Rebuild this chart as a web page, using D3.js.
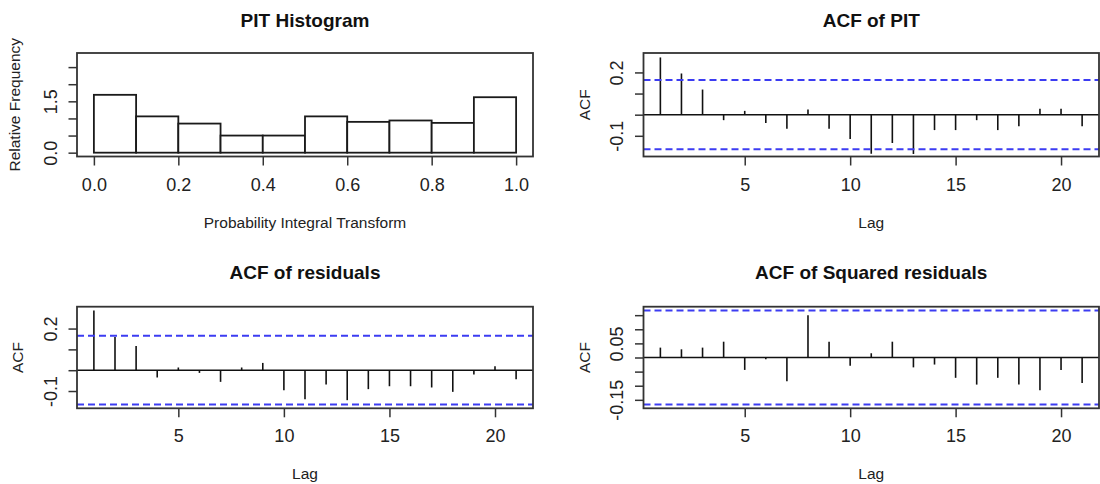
<!DOCTYPE html>
<html><head><meta charset="utf-8">
<script src="https://cdn.jsdelivr.net/npm/d3@7"></script>
<style>body{margin:0;background:#fff} svg{display:block}</style>
</head><body><svg id="c" width="1100" height="484"></svg>
<script>
// ---------- data ----------
const binStarts = [0.0, 0.1, 0.2, 0.3, 0.4, 0.5, 0.6, 0.7, 0.8, 0.9];
const binWidth = 0.1;
const pitDensity = [1.69, 1.06, 0.85, 0.50, 0.50, 1.06, 0.90, 0.94, 0.87, 1.62];
const histXTicks = [0.0, 0.2, 0.4, 0.6, 0.8, 1.0];
const histXLabels = ["0.0", "0.2", "0.4", "0.6", "0.8", "1.0"];
const histYTicks = [0.0, 0.5, 1.0, 1.5, 2.0, 2.5];
const histYLabels = ["0.0", "", "", "1.5", "", ""];

const lags = [1,2,3,4,5,6,7,8,9,10,11,12,13,14,15,16,17,18,19,20,21];
const acfPit = [0.271, 0.195, 0.119, -0.026, 0.018, -0.039, -0.067, 0.025, -0.067, -0.115,
                -0.185, -0.134, -0.186, -0.073, -0.073, -0.026, -0.073, -0.055, 0.028, 0.028, -0.055];
const acfRes = [0.287, 0.159, 0.116, -0.035, 0.013, -0.013, -0.056, 0.013, 0.035, -0.096,
                -0.139, -0.069, -0.144, -0.091, -0.077, -0.077, -0.083, -0.104, -0.021, 0.019, -0.043];
const acfSq  = [0.035, 0.029, 0.035, 0.056, -0.044, -0.006, -0.084, 0.150, 0.056, -0.029,
                0.015, 0.056, -0.035, -0.025, -0.072, -0.096, -0.072, -0.096, -0.116, -0.044, -0.090];
const ciPit = 0.164, ciRes = 0.165, ciSq = 0.1665;
const lagTicks = [5, 10, 15, 20];
const acfTicks = [-0.1, 0.0, 0.1, 0.2];
const acfLabels = ["-0.1", "", "", "0.2"];
const sqTicks = [-0.15, -0.10, -0.05, 0.00, 0.05, 0.10, 0.15];
const sqLabels = ["-0.15", "", "", "", "0.05", "", ""];

// ---------- layout ----------
const svg = d3.select("#c");
const FONT = "'Liberation Sans', Arial, sans-serif";
const cols = [[77, 533], [643.5, 1099]];
const rows = [[53, 156.5], [306.7, 408.3]];

function panel(col, row, xDomain, yDomain, title, xlab, ylab, ylabOff) {
  const [x0, x1] = cols[col], [y0, y1] = rows[row];
  const x = d3.scaleLinear().domain(xDomain).range([x0, x1]);
  const y = d3.scaleLinear().domain(yDomain).range([y1, y0]);
  const g = svg.append("g");
  // title
  g.append("text").attr("x", (x0 + x1) / 2).attr("y", row === 0 ? 26.5 : 279)
    .attr("text-anchor", "middle").attr("font-family", FONT).attr("font-weight", "bold")
    .attr("font-size", 19).attr("fill", "#111").text(title);
  // x label
  g.append("text").attr("x", (x0 + x1) / 2).attr("y", y1 + 71)
    .attr("text-anchor", "middle").attr("font-family", FONT)
    .attr("font-size", 15.5).attr("fill", "#222").text(xlab);
  // y label
  const cy = (y0 + y1) / 2;
  g.append("text").attr("transform", `translate(${x0 - ylabOff},${cy}) rotate(-90)`)
    .attr("text-anchor", "middle").attr("font-family", FONT)
    .attr("font-size", 15.5).attr("fill", "#222").text(ylab);
  return {x, y, g, x0, x1, y0, y1};
}

function styleAxis(sel) {
  sel.select(".domain").remove();
  sel.selectAll(".tick line").attr("stroke", "#333").attr("stroke-width", 1.5);
  sel.selectAll(".tick text").attr("font-family", FONT).attr("font-size", 18).attr("fill", "#222");
}

function xAxis(p, ticks, fmt) {
  const a = p.g.append("g").attr("transform", `translate(0,${p.y1})`)
    .call(d3.axisBottom(p.x).tickValues(ticks).tickSize(9).tickFormat(fmt));
  styleAxis(a);
  a.selectAll(".tick text").attr("y", 34).attr("dy", null);
}
function yAxis(p, ticks, labels) {
  const a = p.g.append("g").attr("transform", `translate(${p.x0},0)`)
    .call(d3.axisLeft(p.y).tickValues(ticks).tickSize(8.5).tickFormat((d, i) => labels[i]));
  styleAxis(a);
  a.selectAll(".tick text").attr("x", null).attr("dy", null).attr("y", null)
    .attr("text-anchor", "middle").attr("transform", "translate(-20.5,0) rotate(-90)");
}
function box(p) {
  p.g.append("rect").attr("x", p.x0).attr("y", p.y0).attr("width", p.x1 - p.x0).attr("height", p.y1 - p.y0)
    .attr("fill", "none").attr("stroke", "#333").attr("stroke-width", 1.8);
}

// ---------- PIT histogram ----------
{
  const p = panel(0, 0, [-0.04, 1.04], [-0.112, 2.912], "PIT Histogram", "Probability Integral Transform", "Relative Frequency", 57);
  p.g.selectAll("rect.bar").data(binStarts).enter().append("rect").attr("class", "bar")
    .attr("x", d => p.x(d)).attr("width", d => p.x(d + binWidth) - p.x(d))
    .attr("y", (d, i) => p.y(pitDensity[i])).attr("height", (d, i) => p.y(0) - p.y(pitDensity[i]))
    .attr("fill", "#fff").attr("stroke", "#1a1a1a").attr("stroke-width", 1.8);
  box(p);
  xAxis(p, histXTicks, (d, i) => histXLabels[i]);
  yAxis(p, histYTicks, histYLabels);
}

// ---------- ACF panels ----------
function acfPanel(col, row, values, ci, yDomain, ticks, labels, title) {
  const p = panel(col, row, [0.2, 21.8], yDomain, title, "Lag", "ACF", 54);
  p.g.append("line").attr("x1", p.x0).attr("x2", p.x1).attr("y1", p.y(0)).attr("y2", p.y(0))
    .attr("stroke", "#111").attr("stroke-width", 1.5);
  p.g.selectAll("line.spike").data(lags).enter().append("line").attr("class", "spike")
    .attr("x1", d => p.x(d)).attr("x2", d => p.x(d))
    .attr("y1", p.y(0)).attr("y2", (d, i) => p.y(values[i]))
    .attr("stroke", "#111").attr("stroke-width", 1.6);
  p.g.selectAll("line.ci").data([ci, -ci]).enter().append("line").attr("class", "ci")
    .attr("x1", p.x0).attr("x2", p.x1).attr("y1", d => p.y(d)).attr("y2", d => p.y(d))
    .attr("stroke", "#3c3cf2").attr("stroke-width", 2).attr("stroke-dasharray", "7,4");
  box(p);
  xAxis(p, lagTicks, d3.format("d"));
  yAxis(p, ticks, labels);
}

acfPanel(1, 0, acfPit, ciPit, [-0.198, 0.292], acfTicks, acfLabels, "ACF of PIT");
acfPanel(0, 1, acfRes, ciRes, [-0.183, 0.305], acfTicks, acfLabels, "ACF of residuals");
acfPanel(1, 1, acfSq, ciSq, [-0.18, 0.18], sqTicks, sqLabels, "ACF of Squared residuals");
</script></body></html>
